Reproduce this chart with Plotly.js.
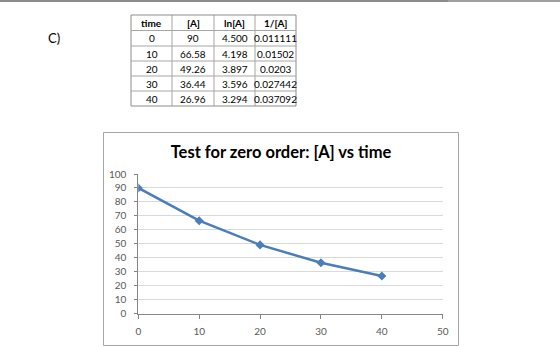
<!DOCTYPE html>
<html><head><meta charset="utf-8">
<script src="https://cdn.plot.ly/plotly-3.0.1.min.js"></script>
<style>html,body{margin:0;padding:0;background:#fff;}#chart{width:560px;height:347px;}</style>
</head><body><div id="chart"></div>
<script>
const time = [0, 10, 20, 30, 40];
const concA = [90, 66.58, 49.26, 36.44, 26.96];
const lnA = ["4.500", "4.198", "3.897", "3.596", "3.294"];
const invA = ["0.011111", "0.01502", "0.0203", "0.027442", "0.037092"];
const concLabels = ["90", "66.58", "49.26", "36.44", "26.96"];
const headers = ["time", "[A]", "ln[A]", "1/[A]"];
const xTicks = [0, 10, 20, 30, 40, 50];
const yTicks = [0, 10, 20, 30, 40, 50, 60, 70, 80, 90, 100];

const W = 560, H = 347;
const px = x => x / W;
const py = y => 1 - y / H;
const font = "Lato, 'Open Sans', sans-serif";

// table geometry (pixels)
const colEdges = [131, 172, 214, 255, 296];
const rowEdges = [15, 30.5, 46, 61, 76, 91, 106];
const tableCols = [time.map(String), concLabels, lnA, invA];

const shapes = [];
const annotations = [];
colEdges.forEach((x, i) => {
  const outer = (i === 0 || i === colEdges.length - 1);
  shapes.push({type: 'line', xref: 'paper', yref: 'paper', x0: px(x), x1: px(x), y0: py(rowEdges[0]), y1: py(rowEdges[rowEdges.length - 1]),
    line: {color: outer ? '#8c8c8c' : '#a6a6a6', width: 1}});
});
rowEdges.forEach((y, i) => {
  const outer = (i === 0 || i === rowEdges.length - 1);
  shapes.push({type: 'line', xref: 'paper', yref: 'paper', x0: px(colEdges[0]), x1: px(colEdges[colEdges.length - 1]), y0: py(y), y1: py(y),
    line: {color: outer ? '#8c8c8c' : '#a6a6a6', width: 1}});
});
headers.forEach((h, c) => {
  annotations.push({text: '<b>' + h + '</b>', xref: 'paper', yref: 'paper',
    x: px((colEdges[c] + colEdges[c + 1]) / 2), y: py((rowEdges[0] + rowEdges[1]) / 2),
    xanchor: 'center', yanchor: 'middle', showarrow: false,
    font: {family: font, size: 10, color: '#000'}});
});
tableCols.forEach((col, c) => {
  col.forEach((v, r) => {
    annotations.push({text: v, xref: 'paper', yref: 'paper',
      x: px((colEdges[c] + colEdges[c + 1]) / 2), y: py((rowEdges[r + 1] + rowEdges[r + 2]) / 2),
      xanchor: 'center', yanchor: 'middle', showarrow: false,
      font: {family: font, size: 10, color: '#000'}});
  });
});

shapes.push(
  {type: 'rect', xref: 'paper', yref: 'paper', x0: px(103.5), x1: px(458.5), y0: py(345.5), y1: py(132.5),
   line: {color: '#a6a6a6', width: 1}},
  {type: 'line', xref: 'paper', yref: 'paper', x0: 0, x1: px(448), y0: py(1), y1: py(1),
   line: {color: '#8c8c8c', width: 2}},
  {type: 'line', xref: 'paper', yref: 'paper', x0: px(448), x1: 1, y0: py(1), y1: py(1),
   line: {color: '#a0a0a0', width: 2}}
);
annotations.push({text: 'C)', xref: 'paper', yref: 'paper', x: px(46), y: py(38), xanchor: 'left', yanchor: 'middle',
  showarrow: false, font: {family: font, size: 13, color: '#000'}});

const lineTrace = {
  type: 'scatter', mode: 'lines+markers',
  x: time, y: concA,
  line: {color: '#4a7ebb', width: 2.5},
  marker: {symbol: 'diamond', size: 7, color: '#4a7ebb'},
  hoverinfo: 'skip'
};

const layout = {
  width: W, height: H,
  margin: {l: 0, r: 0, t: 0, b: 0},
  paper_bgcolor: '#ffffff', plot_bgcolor: 'rgba(0,0,0,0)',
  showlegend: false,
  font: {family: font},
  title: {text: '<b>Test for zero order: [A] vs time</b>', x: px(281), xanchor: 'center', y: py(152), yanchor: 'middle',
          font: {family: font, size: 16.5, color: '#000'}},
  xaxis: {
    domain: [px(138.3), px(442.7)], range: [0, 50],
    tickvals: xTicks, ticktext: xTicks.map(String),
    showgrid: false, zeroline: false,
    showline: true, linecolor: '#868686', linewidth: 1,
    ticks: 'outside', ticklen: 4, tickcolor: '#868686',
    tickfont: {family: font, size: 10, color: '#595959'},
    ticklabelstandoff: 4,
    fixedrange: true
  },
  yaxis: {
    domain: [py(313.7), py(174)], range: [0, 100],
    tickvals: yTicks, ticktext: yTicks.map(String),
    showgrid: true, gridcolor: '#d9d9d9', gridwidth: 1, zeroline: false,
    showline: true, linecolor: '#868686', linewidth: 1,
    ticks: 'outside', ticklen: 3, tickcolor: '#868686',
    tickfont: {family: font, size: 10, color: '#595959'},
    ticklabelstandoff: 6,
    fixedrange: true
  },
  shapes: shapes,
  annotations: annotations
};

Plotly.newPlot('chart', [lineTrace], layout, {displayModeBar: false, staticPlot: true});
</script></body></html>
